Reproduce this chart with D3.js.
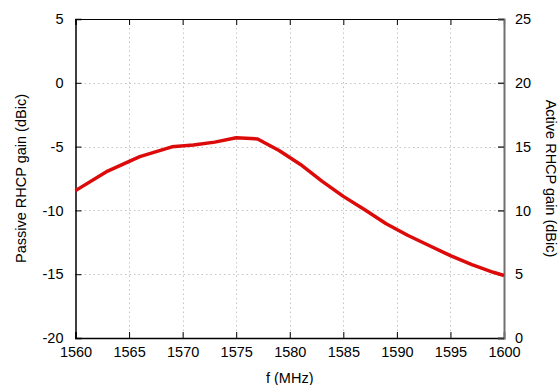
<!DOCTYPE html>
<html>
<head>
<meta charset="utf-8">
<script src="https://cdn.jsdelivr.net/npm/d3@7"></script>
<style>
  body { margin: 0; background: #fff; }
  svg { font-family: "Liberation Sans", Arial, sans-serif; }
</style>
</head>
<body>
<svg id="chart"></svg>
<script>
const freqs = [1560, 1563, 1566, 1569, 1571, 1573, 1575, 1577, 1579, 1581, 1583, 1585, 1587, 1589, 1591, 1593, 1595, 1597, 1599, 1600];
const gains = [-8.45, -6.92, -5.79, -5.02, -4.88, -4.65, -4.3, -4.4, -5.3, -6.4, -7.7, -8.9, -9.95, -11.05, -11.95, -12.75, -13.55, -14.25, -14.85, -15.1];
const xTicks = [1560, 1565, 1570, 1575, 1580, 1585, 1590, 1595, 1600];
const yTicks = [-20, -15, -10, -5, 0, 5];
const y2Ticks = [0, 5, 10, 15, 20, 25];

const w = 560, h = 385;
const margin = {top: 19, right: 56, bottom: 47, left: 75.5};

const svg = d3.select("#chart").attr("width", w).attr("height", h);

const x = d3.scaleLinear().domain([1560, 1600]).range([margin.left, w - margin.right]);
const y = d3.scaleLinear().domain([-20, 5]).range([h - margin.bottom, margin.top]);
const y2 = d3.scaleLinear().domain([0, 25]).range([h - margin.bottom, margin.top]);

// plain hyphen for negatives, like gnuplot
const fmt = d => String(d);

// grid
const grid = svg.append("g").attr("stroke", "#c4c4c4").attr("stroke-width", 1).attr("stroke-dasharray", "1.5,3");
grid.selectAll(".gx").data(xTicks.slice(1, -1)).enter().append("line")
  .attr("x1", d => Math.round(x(d)) + 0.5).attr("x2", d => Math.round(x(d)) + 0.5)
  .attr("y1", margin.top).attr("y2", h - margin.bottom);
grid.selectAll(".gy").data(yTicks.slice(1, -1)).enter().append("line")
  .attr("y1", d => Math.round(y(d)) + 0.5).attr("y2", d => Math.round(y(d)) + 0.5)
  .attr("x1", margin.left).attr("x2", w - margin.right);

const fontSize = "14.5px";

// bottom axis
const xAxis = svg.append("g")
  .attr("transform", `translate(0, ${h - margin.bottom})`)
  .call(d3.axisBottom(x).tickValues(xTicks).tickSize(-6).tickPadding(8.5).tickFormat(fmt));
xAxis.select(".domain").attr("stroke", "#000").attr("stroke-width", 1.5);
xAxis.selectAll("text").attr("font-size", fontSize).attr("fill", "#000").attr("font-family", null);

// top border with ticks
const xTop = svg.append("g")
  .attr("transform", `translate(0, ${margin.top})`)
  .call(d3.axisTop(x).tickValues(xTicks).tickSize(-6).tickFormat(""));
xTop.select(".domain").attr("stroke", "#000").attr("stroke-width", 1.2);

// left axis
const yAxis = svg.append("g")
  .attr("transform", `translate(${margin.left}, 0)`)
  .call(d3.axisLeft(y).tickValues(yTicks).tickSize(-6).tickPadding(12).tickFormat(fmt));
yAxis.select(".domain").attr("stroke", "#000").attr("stroke-width", 1.5);
yAxis.selectAll("text").attr("font-size", fontSize).attr("fill", "#000").attr("font-family", null);

// right axis
const y2Axis = svg.append("g")
  .attr("transform", `translate(${w - margin.right}, 0)`)
  .call(d3.axisRight(y2).tickValues(y2Ticks).tickSize(-6).tickPadding(11).tickFormat(fmt));
y2Axis.select(".domain").attr("stroke", "#707070").attr("stroke-width", 2);
y2Axis.selectAll(".tick line").attr("stroke", "#333").attr("stroke-width", 1.5);
y2Axis.selectAll("text").attr("font-size", fontSize).attr("fill", "#000").attr("font-family", null);

// curve
const line = d3.line().x((d, i) => x(freqs[i])).y(d => y(d));
svg.append("path")
  .datum(gains)
  .attr("d", line)
  .attr("fill", "none")
  .attr("stroke", "#dd0a0a")
  .attr("stroke-width", 3.5)
  .attr("stroke-linejoin", "round");

// labels
svg.append("text")
  .attr("x", (margin.left + w - margin.right) / 2)
  .attr("y", 383)
  .attr("text-anchor", "middle")
  .attr("font-size", fontSize)
  .text("f (MHz)");

svg.append("text")
  .attr("transform", `translate(25.5, ${(margin.top + h - margin.bottom) / 2}) rotate(-90)`)
  .attr("text-anchor", "middle")
  .attr("font-size", fontSize)
  .text("Passive RHCP gain (dBic)");

svg.append("text")
  .attr("transform", `translate(546, ${(margin.top + h - margin.bottom) / 2}) rotate(90)`)
  .attr("text-anchor", "middle")
  .attr("font-size", fontSize)
  .text("Active RHCP gain (dBic)");
</script>
</body>
</html>
